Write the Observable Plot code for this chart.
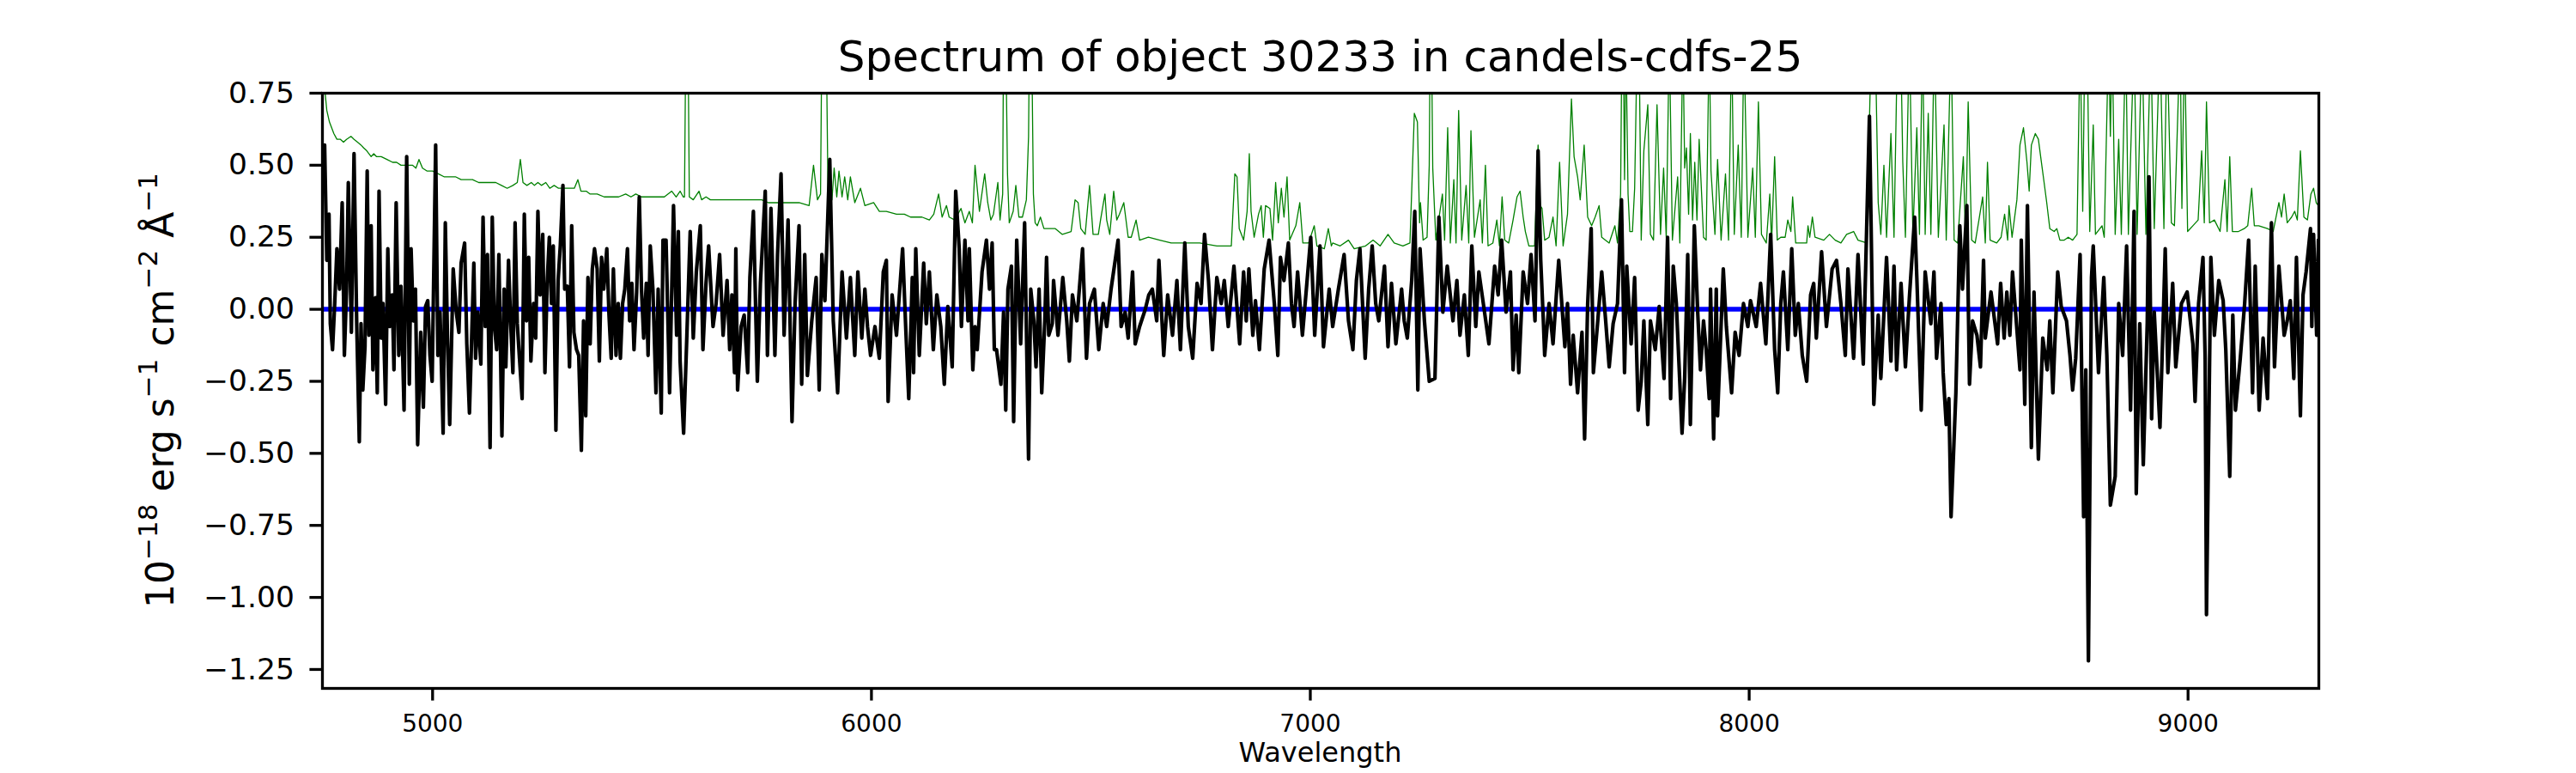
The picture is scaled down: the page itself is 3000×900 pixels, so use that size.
<!DOCTYPE html>
<html>
<head>
<meta charset="utf-8">
<script src="https://cdn.jsdelivr.net/npm/d3@7"></script>
<script src="https://cdn.jsdelivr.net/npm/@observablehq/plot@0.6"></script>
<style>
  html, body { margin: 0; padding: 0; background: #fff; }
  svg { display: block; }
</style>
</head>
<body>
<div id="chart"></div>
<script>
// ---------------- DATA ----------------
const titleText = "Spectrum of object 30233 in candels-cdfs-25";
const xLabelText = "Wavelength";
const xDomain = [4749, 9298];
const yDomain = [-1.3157, 0.75];
const xTicks = [5000, 6000, 7000, 8000, 9000];
const yTicks = [-1.25, -1.0, -0.75, -0.5, -0.25, 0, 0.25, 0.5, 0.75];

// model (blue)
const modelWave = [4749, 9298];
const modelFlux = [0, 0];

// observed flux (black), [wavelength, flux]
const blackA = [[4754,0.57],[4759,0.17],[4764,0.33],[4767,-0.05],[4772,-0.14],[4777,0.02],[4782,0.21],[4788,0.07],[4794,0.37],[4799,-0.16],[4804,0.07],[4808,0.44],[4815,-0.08],[4821,0.54],[4827,-0.04],[4833,-0.46],[4837,-0.05],[4841,-0.28],[4846,-0.13],[4851,0.48],[4855,-0.09],[4860,0.29],[4864,-0.21],[4870,0.04],[4874,-0.29],[4878,0.41],[4883,-0.10],[4887,0.02],[4893,-0.33],[4898,0.21],[4902,-0.06],[4908,0.05],[4912,-0.21],[4917,0.37],[4923,-0.16],[4928,0.08],[4935,-0.35],[4941,0.53],[4947,-0.26],[4951,0.21],[4956,-0.04],[4961,0.07],[4966,-0.47],[4973,-0.08],[4979,-0.34],[4984,0.01],[4989,0.03],[4994,-0.16],[4999,-0.25],[5007,0.57],[5012,-0.16],[5017,-0.01],[5024,-0.43],[5029,0.30],[5034,-0.10],[5039,-0.40],[5047,0.14],[5054,-0.01],[5060,-0.08],[5065,0.16],[5073,0.23],[5078,-0.12],[5084,-0.36],[5089,-0.10],[5094,0.16],[5098,-0.17],[5103,-0.01],[5110,-0.19],[5115,0.32],[5120,-0.06],[5125,0.19],[5131,-0.48],[5136,0.32],[5141,-0.06],[5146,-0.14],[5151,0.19],[5158,-0.44],[5163,0.07],[5167,-0.20],[5173,0.17],[5178,-0.05],[5183,-0.22],[5188,0.30],[5193,-0.05],[5198,-0.17],[5204,-0.31],[5209,0.33],[5214,-0.04],[5219,0.18],[5224,-0.18],[5230,0.02],[5235,-0.10],[5240,0.34],[5245,0.05],[5251,0.26],[5256,-0.22],[5261,0.09],[5266,0.25],[5271,0.02],[5275,0.22],[5281,-0.42],[5286,0.10],[5291,0.22],[5297,0.43],[5301,0.07],[5307,0.08],[5312,-0.20],[5317,0.29],[5322,-0.08],[5328,-0.14],[5333,-0.16],[5339,-0.49],[5344,-0.04],[5349,-0.37],[5354,0.11],[5359,-0.12],[5364,0.14],[5369,0.21],[5375,0.14],[5380,-0.18],[5385,0.18],[5390,0.07],[5397,0.21],[5402,-0.02],[5407,-0.17],[5412,0.14],[5418,-0.16],[5423,0.02],[5428,-0.17],[5433,0.02],[5438,0.07],[5444,0.21],[5449,-0.04],[5454,0.09],[5459,-0.14],[5465,0.06],[5471,0.39],[5476,0.07],[5481,-0.10],[5487,0.09],[5491,-0.16],[5496,0.22]];
const blackB = [[5502,0.07],[5509,-0.29],[5514,0.07],[5521,-0.36],[5525,0.24],[5532,0.24],[5540,-0.29],[5549,0.36],[5556,-0.09],[5560,0.27],[5564,-0.18],[5572,-0.43],[5579,-0.11],[5587,0.27],[5594,-0.10],[5601,0.13],[5610,0.29],[5616,-0.14],[5623,0.09],[5629,0.22],[5639,-0.06],[5646,0.02],[5654,0.19],[5662,-0.09],[5671,0.10],[5677,-0.14],[5682,0.05],[5688,-0.22],[5691,0.21],[5695,-0.28],[5703,-0.06],[5710,-0.02],[5718,-0.22],[5723,0.11],[5731,0.34],[5740,-0.25],[5747,0.09],[5758,0.41],[5763,-0.16],[5771,0.35],[5780,-0.16],[5786,0.19],[5794,0.47],[5801,-0.09],[5810,0.31],[5819,-0.39],[5826,0.02],[5835,0.29],[5841,-0.26],[5848,0.19],[5854,-0.23],[5864,-0.04],[5874,0.11],[5881,-0.28],[5887,0.19],[5894,0.03],[5905,0.52],[5913,-0.04],[5923,-0.29],[5933,0.13],[5943,-0.10],[5952,0.11],[5962,-0.16],[5969,0.13],[5978,-0.10],[5985,0.07],[5991,-0.06],[5998,-0.16],[6008,-0.06],[6018,-0.17],[6027,0.13],[6034,0.17],[6038,-0.32],[6047,0.05],[6057,-0.09],[6071,0.21],[6078,-0.06],[6085,-0.31],[6093,0.11],[6096,-0.22],[6101,0.21],[6109,-0.16],[6119,0.16],[6125,-0.05],[6132,0.13],[6141,-0.14],[6149,0.05],[6158,-0.06],[6166,-0.26],[6174,0.01],[6184,-0.20],[6192,0.41],[6200,0.21],[6205,-0.06],[6213,0.24],[6220,-0.04],[6223,0.21],[6231,-0.21],[6236,-0.06],[6241,-0.14],[6252,0.13],[6262,0.24],[6269,0.07],[6275,0.23],[6280,-0.14]];
const blackC = [[6285,-0.14],[6295,-0.26],[6301,-0.01],[6306,-0.35],[6311,0.07],[6319,0.15],[6324,-0.39],[6331,0.24],[6340,-0.12],[6349,0.30],[6358,-0.52],[6363,0.07],[6370,-0.04],[6375,-0.20],[6382,0.07],[6388,-0.29],[6395,-0.04],[6399,0.18],[6404,-0.09],[6412,-0.05],[6415,0.10],[6425,-0.09],[6436,0.11],[6445,-0.04],[6451,-0.18],[6458,0.05],[6468,-0.04],[6481,0.21],[6490,-0.17],[6497,0.02],[6508,0.07],[6518,-0.14],[6528,0.02],[6536,-0.06],[6546,0.07],[6562,0.24],[6569,-0.06],[6578,-0.01],[6585,-0.10],[6595,0.13],[6601,-0.12],[6611,-0.06],[6624,0.00],[6632,0.05],[6640,0.07],[6650,-0.04],[6655,0.17],[6666,-0.16],[6675,0.05],[6686,-0.09],[6696,0.10],[6704,-0.14],[6714,0.23],[6722,-0.06],[6732,-0.17],[6742,0.09],[6751,0.02],[6759,0.26],[6768,0.10],[6777,-0.14],[6787,0.11],[6797,0.02],[6804,0.10],[6813,-0.06],[6826,0.15],[6839,-0.12],[6848,0.13],[6854,-0.04],[6860,0.14],[6869,-0.09],[6875,0.03],[6884,-0.14],[6895,0.14],[6906,0.24],[6918,0.02],[6926,-0.16],[6932,0.18],[6940,0.10],[6950,0.23],[6957,0.02],[6963,-0.06],[6971,0.13],[6982,-0.09],[6991,0.07],[7001,0.25],[7010,-0.09],[7022,0.22],[7030,-0.13],[7043,0.07]];
const blackD = [[7051,-0.06],[7064,0.07],[7077,0.19],[7087,-0.04],[7097,-0.14],[7105,0.10],[7113,0.21],[7125,-0.17],[7133,0.07],[7141,0.22],[7149,0.02],[7156,-0.04],[7169,0.15],[7177,-0.13],[7185,0.09],[7195,-0.12],[7208,0.07],[7214,-0.04],[7221,-0.10],[7231,0.10],[7238,0.34],[7245,-0.28],[7250,0.21],[7260,-0.04],[7271,-0.25],[7284,-0.24],[7293,0.32],[7302,-0.01],[7312,0.15],[7325,-0.04],[7334,0.10],[7341,-0.09],[7351,0.05],[7360,-0.16],[7368,0.22],[7377,-0.06],[7384,0.13],[7397,-0.01],[7407,-0.12],[7420,0.15],[7428,0.05],[7436,0.24],[7446,-0.01],[7456,0.13],[7462,-0.21],[7469,-0.02],[7475,-0.22],[7485,0.13],[7495,0.02],[7503,0.19],[7512,-0.04],[7519,0.55],[7525,0.17],[7531,-0.04],[7534,-0.16],[7544,0.02],[7553,-0.12],[7566,0.17],[7580,-0.13],[7586,0.02],[7593,-0.26],[7599,-0.09],[7609,-0.29],[7619,-0.08],[7625,-0.45],[7632,0.02],[7640,0.28],[7645,-0.22],[7655,-0.04],[7664,0.13],[7673,-0.04],[7681,-0.20],[7690,-0.05],[7700,0.02],[7709,0.38],[7716,-0.22],[7721,0.15],[7731,-0.12],[7739,0.11],[7747,-0.35],[7754,-0.25],[7760,-0.04],[7769,-0.40],[7775,-0.04],[7786,-0.14],[7795,0.01],[7806,-0.24]];
const blackE = [[7814,0.25],[7821,-0.31],[7827,0.15],[7834,0.02],[7847,-0.43],[7853,-0.24],[7860,0.19],[7866,-0.40],[7875,0.29],[7883,-0.02],[7889,-0.21],[7896,-0.04],[7902,-0.14],[7909,-0.31],[7912,0.07],[7919,-0.45],[7925,0.07],[7928,-0.37],[7941,0.14],[7948,-0.06],[7960,-0.29],[7968,-0.08],[7977,-0.16],[7987,0.02],[7997,-0.06],[8003,0.03],[8016,-0.06],[8026,0.09],[8038,-0.12],[8049,0.26],[8058,-0.14],[8065,-0.29],[8072,0.02],[8078,0.13],[8088,-0.14],[8097,0.21],[8105,-0.09],[8112,0.02],[8121,-0.16],[8131,-0.25],[8140,0.05],[8147,0.09],[8153,-0.10],[8165,0.20],[8176,-0.06],[8189,0.14],[8199,0.17],[8209,0.02],[8219,-0.16],[8225,0.14],[8238,-0.17],[8248,0.19],[8260,-0.19],[8274,0.67],[8284,-0.33],[8294,-0.02],[8300,-0.24],[8313,0.18],[8323,-0.18],[8330,0.15],[8336,-0.21],[8346,0.09],[8356,-0.20],[8365,0.04],[8377,0.32],[8382,0.11],[8392,-0.35],[8401,0.13],[8414,-0.05],[8421,0.13],[8427,-0.17],[8437,0.02],[8442,-0.22],[8449,-0.40],[8455,-0.31],[8460,-0.72],[8471,-0.29],[8480,0.29],[8486,0.07],[8496,0.36],[8502,-0.26],[8509,-0.04],[8519,-0.09],[8527,-0.20],[8534,0.17],[8538,-0.10],[8551,0.06],[8566,-0.12],[8573,0.09]];
const blackF = [[8581,-0.10],[8587,0.06],[8594,-0.09],[8600,0.13],[8607,-0.01],[8617,-0.21],[8620,0.24],[8628,-0.33],[8634,0.36],[8643,-0.48],[8649,0.06],[8659,-0.52],[8669,-0.10],[8679,-0.21],[8685,-0.04],[8692,-0.29],[8703,0.13],[8711,0.01],[8723,-0.04],[8731,-0.16],[8737,-0.28],[8744,-0.17],[8754,0.19],[8762,-0.72],[8767,-0.21],[8773,-1.22],[8780,0.11],[8784,0.22],[8796,-0.22],[8808,0.11],[8815,-0.16],[8823,-0.68],[8834,-0.58],[8842,0.02],[8851,-0.16],[8860,0.22],[8869,-0.35],[8877,0.34],[8882,-0.64],[8890,-0.05],[8898,-0.54],[8907,-0.05],[8911,0.46],[8917,-0.38],[8923,-0.01],[8936,-0.41],[8943,-0.06],[8948,0.21],[8954,-0.22],[8965,0.09],[8972,-0.20],[8985,0.02],[8998,0.06],[9011,-0.12],[9016,-0.32],[9024,0.02],[9034,0.18],[9039,-0.17],[9042,-1.06],[9052,0.18],[9060,-0.09],[9070,0.10],[9080,0.03],[9086,-0.14],[9095,-0.58],[9102,-0.02],[9108,-0.35],[9119,-0.17],[9129,0.02],[9138,0.24],[9147,-0.29],[9153,0.15],[9162,-0.35],[9171,-0.10],[9181,-0.31],[9190,0.30],[9197,-0.20],[9207,0.15],[9219,-0.09],[9226,-0.04],[9233,0.03],[9241,-0.24],[9247,0.18],[9256,-0.37],[9262,0.05],[9269,0.13],[9279,0.28],[9282,-0.06],[9286,0.26],[9293,-0.09],[9297,0.24]];

// noise / error spectrum (green), [wavelength, flux]
const greenA = [[4749,0.95],[4752,0.80],[4759,0.69],[4765,0.65],[4775,0.61],[4782,0.59],[4790,0.59],[4797,0.58],[4804,0.59],[4814,0.60],[4821,0.59],[4829,0.58],[4837,0.57],[4843,0.56],[4850,0.55],[4860,0.53],[4866,0.54],[4872,0.53],[4883,0.53],[4896,0.52],[4909,0.51],[4918,0.51],[4928,0.50],[4941,0.50],[4954,0.50],[4962,0.49],[4969,0.52],[4977,0.49],[4987,0.48],[5000,0.48],[5013,0.47],[5026,0.46],[5039,0.46],[5052,0.46],[5065,0.45],[5078,0.45],[5091,0.45],[5105,0.44],[5118,0.44],[5131,0.44],[5144,0.44],[5157,0.43],[5170,0.42],[5183,0.43],[5193,0.44],[5200,0.52],[5206,0.44],[5215,0.43],[5225,0.44],[5232,0.43],[5240,0.44],[5248,0.43],[5258,0.44],[5267,0.42],[5277,0.43],[5287,0.42],[5305,0.42],[5323,0.42],[5331,0.45],[5338,0.41],[5350,0.41],[5359,0.40],[5375,0.40],[5391,0.39],[5408,0.39],[5424,0.39],[5440,0.40],[5452,0.39],[5463,0.40],[5476,0.39],[5489,0.39],[5505,0.39],[5520,0.39]];
const greenB = [[5528,0.39],[5545,0.41],[5555,0.39],[5564,0.41],[5571,0.39],[5574,0.39],[5577,0.95],[5582,0.95],[5585,0.39],[5594,0.38],[5607,0.41],[5613,0.38],[5623,0.39],[5633,0.38],[5646,0.38],[5659,0.38],[5680,0.38],[5698,0.38],[5715,0.38],[5731,0.38],[5750,0.38],[5765,0.37],[5783,0.37],[5809,0.37],[5835,0.37],[5858,0.36],[5868,0.50],[5877,0.38],[5884,0.40],[5887,0.95],[5897,0.95],[5901,0.40],[5910,0.38],[5915,0.49],[5921,0.39],[5926,0.48],[5933,0.39],[5939,0.46],[5946,0.38],[5952,0.46],[5962,0.37],[5975,0.42],[5985,0.36],[6005,0.37],[6018,0.34],[6034,0.34],[6057,0.33],[6075,0.33],[6089,0.32],[6115,0.32],[6132,0.31],[6142,0.33],[6153,0.40],[6161,0.32],[6171,0.36],[6177,0.32],[6190,0.31],[6204,0.35],[6213,0.30],[6223,0.34],[6230,0.30],[6236,0.50],[6246,0.34],[6258,0.47],[6265,0.37]];
const greenC = [[6272,0.31],[6278,0.33],[6288,0.44],[6293,0.31],[6299,0.40],[6301,0.95],[6306,0.95],[6310,0.47],[6314,0.30],[6323,0.34],[6329,0.43],[6336,0.32],[6344,0.32],[6353,0.38],[6358,0.60],[6360,0.95],[6365,0.95],[6369,0.40],[6373,0.30],[6378,0.29],[6385,0.32],[6393,0.28],[6419,0.28],[6435,0.26],[6455,0.27],[6464,0.38],[6471,0.37],[6477,0.28],[6487,0.26],[6497,0.43],[6505,0.26],[6517,0.26],[6522,0.31],[6532,0.40],[6536,0.31],[6543,0.26],[6546,0.31],[6552,0.41],[6559,0.31],[6565,0.33],[6575,0.37],[6585,0.25],[6592,0.25],[6603,0.31],[6611,0.24],[6631,0.25],[6657,0.24],[6683,0.23],[6715,0.23],[6748,0.23],[6787,0.22],[6820,0.22],[6828,0.47],[6833,0.46],[6838,0.28],[6848,0.24],[6856,0.34],[6861,0.54],[6865,0.34],[6872,0.25],[6882,0.33],[6888,0.36],[6893,0.25],[6898,0.36],[6908,0.35],[6914,0.24],[6921,0.44],[6927,0.30],[6934,0.42],[6940,0.32],[6947,0.46],[6953,0.24],[6967,0.29],[6976,0.37],[6983,0.23],[6996,0.23],[7009,0.29],[7015,0.22],[7032,0.21],[7041,0.28],[7048,0.22]];
const greenD = [[7051,0.23],[7068,0.22],[7087,0.24],[7100,0.21],[7126,0.22],[7143,0.24],[7159,0.22],[7177,0.26],[7191,0.23],[7211,0.22],[7227,0.23],[7237,0.68],[7244,0.65],[7249,0.30],[7251,0.37],[7257,0.24],[7266,0.25],[7271,0.50],[7273,0.95],[7276,0.95],[7279,0.49],[7286,0.24],[7301,0.40],[7306,0.24],[7313,0.63],[7319,0.23],[7327,0.45],[7332,0.23],[7338,0.69],[7345,0.24],[7355,0.43],[7361,0.23],[7366,0.62],[7374,0.25],[7387,0.38],[7392,0.23],[7399,0.50],[7405,0.22],[7416,0.23],[7425,0.31],[7431,0.22],[7437,0.39],[7443,0.24],[7452,0.23],[7462,0.31],[7471,0.39],[7478,0.41],[7485,0.32],[7490,0.27],[7498,0.22],[7511,0.22],[7519,0.57],[7524,0.36],[7528,0.35],[7534,0.24],[7544,0.25],[7553,0.32],[7560,0.22],[7568,0.51],[7576,0.22],[7586,0.33],[7595,0.73],[7601,0.53],[7609,0.46],[7615,0.38],[7624,0.57],[7632,0.32],[7641,0.29],[7649,0.32],[7658,0.36],[7664,0.25],[7681,0.23],[7694,0.29],[7700,0.23],[7707,0.40],[7710,0.95],[7713,0.95],[7716,0.45],[7719,0.95],[7724,0.40],[7728,0.27],[7734,0.27],[7739,0.42],[7745,0.95],[7749,0.95],[7754,0.24],[7760,0.55],[7769,0.71],[7775,0.26],[7782,0.24],[7790,0.71],[7798,0.26]];
const greenE = [[7805,0.49],[7811,0.25],[7818,0.95],[7825,0.24],[7837,0.46],[7842,0.23],[7849,0.95],[7853,0.49],[7857,0.56],[7862,0.33],[7866,0.61],[7871,0.31],[7876,0.51],[7881,0.31],[7886,0.59],[7896,0.25],[7902,0.24],[7909,0.95],[7913,0.48],[7922,0.26],[7928,0.52],[7936,0.24],[7946,0.47],[7953,0.24],[7960,0.95],[7966,0.26],[7975,0.57],[7982,0.25],[7988,0.95],[7997,0.25],[8008,0.49],[8014,0.25],[8021,0.72],[8028,0.26],[8039,0.23],[8047,0.40],[8051,0.23],[8058,0.53],[8064,0.24],[8072,0.25],[8082,0.25],[8088,0.31],[8095,0.27],[8099,0.39],[8106,0.23],[8131,0.23],[8134,0.29],[8138,0.25],[8144,0.32],[8150,0.25],[8170,0.24],[8183,0.26],[8196,0.24],[8209,0.23],[8222,0.26],[8238,0.27],[8248,0.24],[8268,0.23],[8275,0.72],[8279,0.95],[8287,0.95],[8294,0.37],[8300,0.26],[8307,0.50],[8313,0.25],[8323,0.61],[8330,0.25],[8338,0.95],[8345,0.95],[8350,0.51],[8356,0.25],[8365,0.95],[8373,0.26],[8382,0.63],[8388,0.26],[8395,0.95],[8401,0.26],[8408,0.68],[8414,0.26],[8422,0.95],[8431,0.25],[8444,0.64],[8449,0.24],[8460,0.95],[8467,0.24],[8475,0.23],[8488,0.53],[8493,0.23],[8499,0.72],[8507,0.24],[8515,0.23],[8532,0.39],[8538,0.23],[8543,0.51],[8549,0.24],[8564,0.23],[8574,0.25]];
const greenF = [[8582,0.33],[8589,0.24],[8592,0.36],[8599,0.25],[8610,0.38],[8617,0.57],[8625,0.63],[8633,0.51],[8638,0.41],[8643,0.57],[8652,0.61],[8659,0.59],[8665,0.52],[8672,0.44],[8678,0.37],[8685,0.28],[8695,0.27],[8701,0.28],[8708,0.24],[8718,0.24],[8727,0.25],[8737,0.24],[8747,0.26],[8754,0.95],[8760,0.34],[8765,0.95],[8770,0.95],[8776,0.27],[8784,0.64],[8789,0.26],[8804,0.29],[8809,0.25],[8819,0.95],[8823,0.60],[8827,0.95],[8834,0.26],[8842,0.59],[8848,0.26],[8858,0.95],[8864,0.26],[8877,0.95],[8884,0.26],[8895,0.95],[8904,0.26],[8915,0.95],[8923,0.28],[8936,0.95],[8945,0.28],[8952,0.95],[8962,0.30],[8969,0.29],[8982,0.95],[8986,0.35],[8992,0.95],[8999,0.27],[9011,0.29],[9023,0.31],[9031,0.55],[9037,0.30],[9042,0.72],[9049,0.30],[9060,0.31],[9073,0.27],[9084,0.45],[9089,0.27],[9095,0.53],[9101,0.27],[9115,0.27],[9128,0.28],[9136,0.29],[9145,0.42],[9151,0.29],[9161,0.29],[9181,0.28],[9194,0.27],[9207,0.37],[9213,0.32],[9219,0.40],[9226,0.30],[9236,0.32],[9243,0.34],[9249,0.31],[9256,0.55],[9264,0.32],[9272,0.31],[9280,0.40],[9286,0.42],[9292,0.37],[9297,0.36]];

// ---------------- BUILD ----------------
const toRows = arr => arr.map(([w, f]) => ({w, f}));
const black = toRows([...blackA, ...blackB, ...blackC, ...blackD, ...blackE, ...blackF]);
const green = toRows([...greenA, ...greenB, ...greenC, ...greenD, ...greenE, ...greenF]);
const model = modelWave.map((w, i) => ({w, f: modelFlux[i]}));

const W = 3000, H = 900;
const mL = 375, mR = 300, mT = 108, mB = 99;
const FONT = "DejaVu Sans";

const chart = Plot.plot({
  width: W,
  height: H,
  marginLeft: mL,
  marginRight: mR,
  marginTop: mT,
  marginBottom: mB,
  style: {fontFamily: FONT, background: "white", color: "black", overflow: "visible"},
  x: {domain: xDomain, label: null},
  y: {domain: yDomain, label: null},
  marks: [
    Plot.line(green, {x: "w", y: "f", stroke: "#008000", strokeWidth: 1.3, clip: true}),
    Plot.line(model, {x: "w", y: "f", stroke: "#0000ff", strokeWidth: 5.5, clip: true}),
    Plot.line(black, {x: "w", y: "f", stroke: "#000000", strokeWidth: 4.2, strokeLinejoin: "round", clip: true}),
    Plot.axisX({ticks: xTicks, tickFormat: d => String(d), tickSize: 14.6, tickPadding: 16,
      fontSize: 28, strokeWidth: 3.3, label: null}),
    Plot.axisY({ticks: yTicks, tickFormat: d3.format(".2f"), tickSize: 14.6, tickPadding: 18,
      fontSize: 34.5, strokeWidth: 3.3, label: null}),
    Plot.frame({stroke: "black", strokeWidth: 3.3})
  ]
});

document.getElementById("chart").appendChild(chart);

// title, axis labels
const svg = d3.select(chart);
const cx = mL + (W - mL - mR) / 2;
const cy = mT + (H - mT - mB) / 2;

svg.append("text")
  .attr("x", cx).attr("y", 83)
  .attr("text-anchor", "middle")
  .attr("font-family", FONT).attr("font-size", 50).attr("fill", "black")
  .text(titleText);

svg.append("text")
  .attr("x", cx).attr("y", 887)
  .attr("text-anchor", "middle")
  .attr("font-family", FONT).attr("font-size", 32).attr("fill", "black")
  .text(xLabelText);

// y label with superscripts
const yLabelParts = [
  {t: "10", sup: false}, {t: "\u221218", sup: true},
  {t: " erg s", sup: false}, {t: "\u22121", sup: true},
  {t: " cm", sup: false}, {t: "\u22122", sup: true},
  {t: " \u00C5", sup: false}, {t: "\u22121", sup: true}
];
const ylab = svg.append("text")
  .attr("transform", `translate(202,${cy}) rotate(-90)`)
  .attr("text-anchor", "middle")
  .attr("font-family", FONT).attr("font-size", 44).attr("fill", "black");
let raised = false;
const RAISE = 19;
for (const p of yLabelParts) {
  const ts = ylab.append("tspan").text(p.t);
  if (p.sup && !raised) { ts.attr("dy", -RAISE).attr("font-size", 31); raised = true; }
  else if (p.sup) { ts.attr("font-size", 31); }
  else if (!p.sup && raised) { ts.attr("dy", RAISE); raised = false; }
}
</script>
</body>
</html>
